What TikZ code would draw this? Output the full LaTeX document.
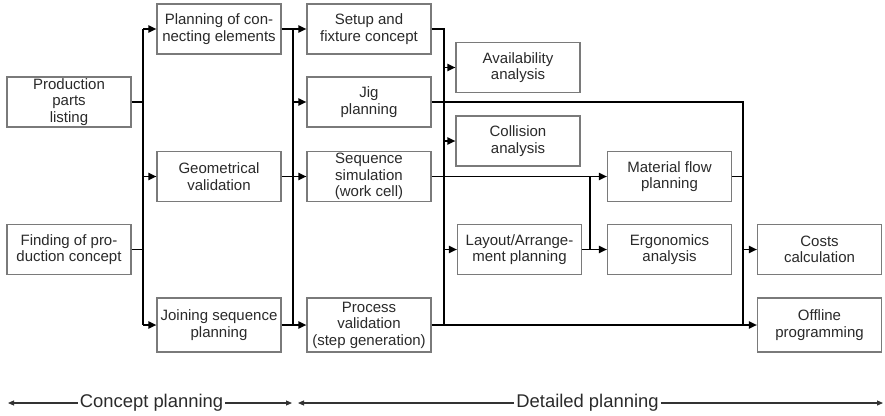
\documentclass[tikz,border=0pt]{standalone}
\usepackage{fontspec}
\setmainfont{Liberation Sans}
\usetikzlibrary{arrows.meta}
\definecolor{boxline}{HTML}{7A7A7A}
\definecolor{txt}{HTML}{2A2A2A}
\begin{document}
\begin{tikzpicture}[x=1pt,y=-1pt,
  task/.style={draw=boxline,line width=1.1pt,fill=white,inner sep=0pt,
    minimum width=124pt,minimum height=50pt,align=center,text=txt,
    font=\fontsize{15}{16.5}\selectfont},
  tall/.style={minimum height=54pt},
  conn/.style={line width=1.8pt,black},
  flow/.style={conn,-{Triangle[length=8pt,width=7pt]}},
  phase/.style={line width=1.1pt,draw=black!80,-{Triangle[length=6pt,width=5pt]}},
  phasetext/.style={inner sep=2pt,text=txt,font=\fontsize{18.4}{20}\selectfont}]
\useasboundingbox (0,0) rectangle (885,415);

% column 1: inputs
\node[task] (prod) at (69,102) {Production\\parts\\listing};
\node[task] (find) at (69,249.5) {Finding of pro-\\duction concept};
% column 2: concept planning
\node[task] (pce)  at (219,29) {Planning of con-\\necting elements};
\node[task] (geo)  at (219,176.5) {Geometrical\\validation};
\node[task,tall] (join) at (219,325) {Joining sequence\\planning};
% column 3
\node[task] (setup) at (369,29) {Setup and\\fixture concept};
\node[task] (jig)   at (369,102) {Jig\\planning};
\node[task] (seq)   at (369,176.5) {Sequence\\simulation\\(work cell)};
\node[task,tall] (proc) at (369,325) {Process\\validation\\(step generation)};
% column 4
\node[task] (avail)  at (518,67.5) {Availability\\analysis};
\node[task] (coll)   at (518,141) {Collision\\analysis};
\node[task] (layout) at (519.5,249.5) {Layout/Arrange-\\ment planning};
% column 5
\node[task] (mat)  at (669.5,176.5) {Material flow\\planning};
\node[task] (ergo) at (669.5,249.5) {Ergonomics\\analysis};
% column 6: outputs
\node[task] (costs)   at (819.5,249.5) {Costs\\calculation};
\node[task,tall] (offline) at (819.5,325) {Offline\\programming};

% vertical distribution lines
\coordinate (b1) at (143,0);
\coordinate (b2) at (293,0);
\coordinate (b3) at (444,0);
\coordinate (b4) at (590,0);
\coordinate (b5) at (743,0);

% inputs -> concept planning
\draw[conn] (prod.east) -- (prod.east -| b1);
\draw[conn] (find.east) -- (find.east -| b1);
\draw[conn] (pce.west -| b1) -- (join.west -| b1);
\draw[flow] (pce.west -| b1) -- (pce.west);
\draw[flow] (geo.west -| b1) -- (geo.west);
\draw[flow] (join.west -| b1) -- (join.west);

% concept planning -> detailed planning
\draw[conn] (pce.east -| b2) -- (join.east -| b2);
\draw[flow] (pce.east) -- (setup.west);
\draw[flow] (jig.west -| b2) -- (jig.west);
\draw[flow] (geo.east) -- (seq.west);
\draw[flow] (join.east) -- (proc.west);

% setup and fixture concept -> analyses
\draw[conn] (setup.east) -| (proc.east -| b3);
\draw[flow] (avail.west -| b3) -- (avail.west);
\draw[flow] (coll.west -| b3) -- (coll.west);
\draw[flow] (layout.west -| b3) -- (layout.west);

% sequence simulation and layout -> material flow, ergonomics
\draw[flow] (seq.east) -- (mat.west);
\draw[conn] (seq.east -| b4) -- (ergo.west -| b4);
\draw[flow] (layout.east) -- (ergo.west);

% collecting line -> outputs
\draw[conn] (jig.east) -| (proc.east -| b5);
\draw[conn] (mat.east) -- (mat.east -| b5);
\draw[flow] (costs.west -| b5) -- (costs.west);
\draw[flow] (proc.east) -- (offline.west);

% phases
\node[phasetext] (concept) at (151.5,403) {Concept planning};
\node[phasetext] (detailed) at (587.5,403) {Detailed planning};
\coordinate (c0) at (8,403);
\coordinate (c1) at (292,403);
\coordinate (d0) at (298,403);
\coordinate (d1) at (883,403);
\draw[phase] (concept.west) -- (c0);
\draw[phase] (concept.east) -- (c1);
\draw[phase] (detailed.west) -- (d0);
\draw[phase] (detailed.east) -- (d1);
\end{tikzpicture}
\end{document}
